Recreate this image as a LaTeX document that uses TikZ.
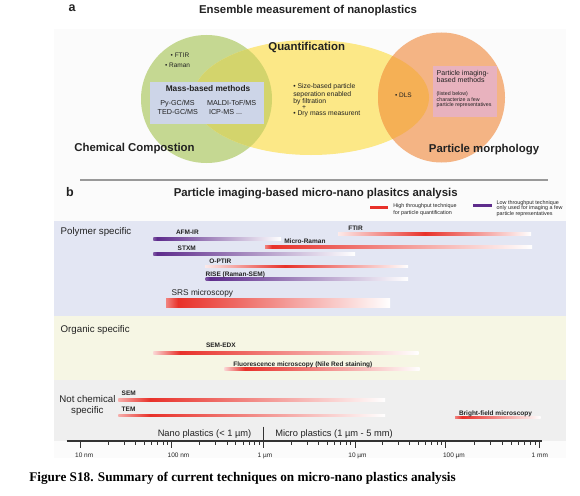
\documentclass[tikz,border=0pt]{standalone}
\usepackage{fontspec}
\setmainfont{Liberation Sans}
\newfontfamily\capfont{Liberation Serif}
\definecolor{txt}{HTML}{222222}
\definecolor{greenc}{HTML}{C5D892}
\definecolor{yellowc}{HTML}{FCE887}
\definecolor{orangec}{HTML}{F4B484}
\definecolor{gyc}{HTML}{D3D46C}
\definecolor{yoc}{HTML}{F5B055}
\definecolor{massc}{HTML}{CDD5E8}
\definecolor{pinkc}{HTML}{E8B2BE}
\definecolor{polyc}{HTML}{E3E6F3}
\definecolor{orgc}{HTML}{F6F6E4}
\definecolor{ncc}{HTML}{EFEFEF}
\definecolor{bgc}{HTML}{FBFBFB}
\definecolor{redc}{HTML}{E8312A}
\definecolor{purpc}{HTML}{5E2C8C}
\definecolor{axc}{HTML}{333333}
\newcommand\fsz[1]{\fontsize{#1}{#1}\selectfont}
% colour, x start, x peak, x end, y, half thickness, start strength
\newcommand\gbar[7]{%
  \shade[left color=#1!#7!white, right color=#1] (#2,#5-#6) rectangle (#3,#5+#6);
  \shade[left color=#1, right color=white] (#3,#5-#6) rectangle (#4,#5+#6);}
\begin{document}
\begin{tikzpicture}[x=1pt,y=-1pt,
  every node/.style={inner sep=0pt, outer sep=0pt, text=txt, text height=.72em, text depth=0pt},
  big/.style={font=\fsz{11.4}\bfseries},
  letter/.style={font=\fsz{12.5}\bfseries},
  bul/.style={font=\fsz{6.5}, anchor=west},
  ctr/.style={font=\fsz{6.8}, anchor=west},
  mass/.style={font=\fsz{7.2}},
  pinkbig/.style={font=\fsz{7}, anchor=west},
  pinksmall/.style={font=\fsz{5.3}, anchor=west},
  leg/.style={font=\fsz{5.4}, anchor=west},
  cat/.style={font=\fsz{9.7}},
  lab/.style={font=\fsz{6.5}\bfseries, anchor=west},
  tickl/.style={font=\fsz{6.5}},
  rangelab/.style={font=\fsz{9.3}},
  axisline/.style={draw=axc, line width=1.3pt},
  tickline/.style={draw=axc, line width=0.9pt},
]
\useasboundingbox (0,0) rectangle (580,495);
\fill[white] (0,0) rectangle (580,495);
\fill[bgc] (54,29) rectangle (566,458);

% ---------------- a: Venn ----------------
\node[letter] (lbla) at (72,7.5) {a};
\node[big] (ttla) at (308,10) {Ensemble measurement of nanoplastics};

\fill[greenc] (206.5,99) ellipse [x radius=65.5pt, y radius=64pt];
\fill[yellowc] (311,97.5) ellipse [x radius=118pt, y radius=57.5pt];
\fill[orangec] (441.5,97.5) ellipse [x radius=63.5pt, y radius=65pt];
\begin{scope}
  \clip (206.5,99) ellipse [x radius=65.5pt, y radius=64pt];
  \fill[gyc] (311,97.5) ellipse [x radius=118pt, y radius=57.5pt];
\end{scope}
\begin{scope}
  \clip (441.5,97.5) ellipse [x radius=63.5pt, y radius=65pt];
  \fill[yoc] (311,97.5) ellipse [x radius=118pt, y radius=57.5pt];
\end{scope}

\fill[massc] (150,81.7) rectangle (264,124);
\node[font=\fsz{8.3}\bfseries] (mb) at (208,87.7) {Mass-based methods};
\node[mass] (py) at (177.5,102) {Py-GC/MS};
\node[mass] (ted) at (177.8,110.7) {TED-GC/MS};
\node[mass, anchor=west] (maldi) at (207,102) {MALDI-ToF/MS};
\node[mass, anchor=west] (icp) at (209,110.7) {ICP-MS ...};

\node[bul] (ftira) at (170.7,54) {• FTIR};
\node[bul] (ramana) at (165,64) {• Raman};

\node[big] (quant) at (306.7,46.7) {Quantification};
\node[ctr] (c1) at (293.3,85) {• Size-based particle};
\node[ctr] (c2) at (293.3,92.7) {seperation enabled};
\node[ctr] (c3) at (293.3,100.3) {by filtration};
\node[font=\fsz{6.8}] (c4) at (304,105.7) {+};
\node[ctr] (c5) at (293.3,112.3) {• Dry mass measurent};

\node[bul] (dls) at (395,94) {• DLS};
\fill[pinkc] (433,65.7) rectangle (497,116.7);
\node[pinkbig] (p1) at (436.7,71.7) {Particle imaging-};
\node[pinkbig] (p2) at (436.7,79.3) {based methods};
\node[pinksmall] (p3) at (436.7,92) {(listed below)};
\node[pinksmall] (p4) at (436.7,97.7) {characterize a few};
\node[pinksmall] (p5) at (436.7,103.3) {particle representatives};

\node[big] (chem) at (134.5,148.3) {Chemical Compostion};
\node[big] (morph) at (484,149.3) {Particle morphology};

% ---------------- b ----------------
\draw[draw=black!40, line width=1.3pt] (80,180) -- (548,180);
\node[letter] (lblb) at (70,193) {b};
\node[big] (ttlb) at (315.7,193) {Particle imaging-based micro-nano plasitcs analysis};

\fill[redc] (370,205.6) rectangle (388,209);
\node[leg] (lh1) at (393.3,204.3) {High throughput technique};
\node[leg] (lh2) at (393.3,210.7) {for particle quantification};
\fill[purpc] (473,204) rectangle (492,207.4);
\node[leg] (ll1) at (496.7,200.7) {Low throughput technique};
\node[leg] (ll2) at (496.7,206.3) {only used for imaging a few};
\node[leg] (ll3) at (496.7,212) {particle representatives};

\fill[polyc] (54,220.7) rectangle (566,315.7);
\fill[orgc] (54,315.7) rectangle (566,380);
\fill[ncc] (54,380) rectangle (566,441);

% polymer specific
\node[cat, anchor=west] (poly) at (60.7,231.3) {Polymer specific};
\gbar{redc}{338}{425}{531}{234}{1.3}{10}
\node[lab] (lftir) at (348.3,227) {FTIR};
\gbar{purpc}{153.3}{157}{281}{239}{1.3}{80}
\node[lab] (lafm) at (176,231.3) {AFM-IR};
\gbar{redc}{265}{272}{532}{247}{1.3}{60}
\node[lab] (lmr) at (284.3,239.7) {Micro-Raman};
\gbar{purpc}{153.3}{157}{355}{253.7}{1.3}{80}
\node[lab] (lstxm) at (177.7,247) {STXM};
\gbar{redc}{205}{285}{408}{266.3}{1.3}{10}
\node[lab] (lopt) at (209.3,260.3) {O-PTIR};
\gbar{purpc}{205.7}{210}{408}{279}{1.3}{80}
\node[lab] (lrise) at (205.7,272.5) {RISE (Raman-SEM)};
\gbar{redc}{166}{178}{390}{303}{4.3}{60}
\node[font=\fsz{8.3}, anchor=west] (lsrs) at (171.7,292) {SRS microscopy};

% organic specific
\node[cat, anchor=west] (org) at (60.7,329.3) {Organic specific};
\gbar{redc}{153.3}{180}{418.5}{352.7}{1.3}{20}
\node[lab] (ledx) at (206,344) {SEM-EDX};
\gbar{redc}{224.3}{245}{419.6}{369}{1.3}{20}
\node[lab] (lfl) at (233.3,362.7) {Fluorescence microscopy (Nile Red staining)};

% not chemical specific
\node[cat] (nc1) at (87.5,399) {Not chemical};
\node[cat] (nc2) at (87.4,410) {specific};
\gbar{redc}{118.3}{150}{385}{400}{1.3}{40}
\node[lab] (lsem) at (121.7,391.7) {SEM};
\gbar{redc}{118.3}{150}{385}{415.5}{1.3}{40}
\node[lab] (ltem) at (121.7,408.3) {TEM};
\gbar{redc}{455}{462}{540.7}{417.3}{1.3}{60}
\node[lab] (lbf) at (459,411.7) {Bright-field microscopy};

% axis
\coordinate (axl) at (66.7,441);
\coordinate (axr) at (541.7,441);
\draw[axisline] (axl) -- (axr);
\coordinate (divt) at (263.3,426.7);
\coordinate (divb) at (263.3,441);
\draw[tickline] (divt) -- (divb);
\foreach \a/\b in {80.7/171.7,171.7/263.3,263.3/355,355/445.7,445.7/539.3}{
  \draw[tickline] (\a,441) -- (\a,447.5);
  \foreach \k in {2,...,9}{
    \pgfmathsetmacro\xx{\a+(\b-\a)*log10(\k)}
    \draw[tickline, line width=0.7pt] (\xx,441) -- (\xx,444.8);
  }
}
\draw[tickline] (539.3,441) -- (539.3,447.5);
\node[tickl] (t1) at (84.2,454) {10 nm};
\node[tickl] (t2) at (178.5,454) {100 nm};
\node[tickl] (t3) at (265,454) {1 µm};
\node[tickl] (t4) at (357.5,454) {10 µm};
\node[tickl] (t5) at (454,454) {100 µm};
\node[tickl] (t6) at (539.8,454) {1 mm};
\node[rangelab] (nano) at (204.5,433.3) {Nano plastics (< 1 µm)};
\node[rangelab] (micro) at (334,433.3) {Micro plastics (1 µm - 5 mm)};

% caption
\node[font=\capfont\fsz{13.2}\bfseries, anchor=base west, text=black] (cap) at (29.3,481.7)
  {Figure S18. Summary of current techniques on micro-nano plastics analysis};
\end{tikzpicture}
\end{document}
